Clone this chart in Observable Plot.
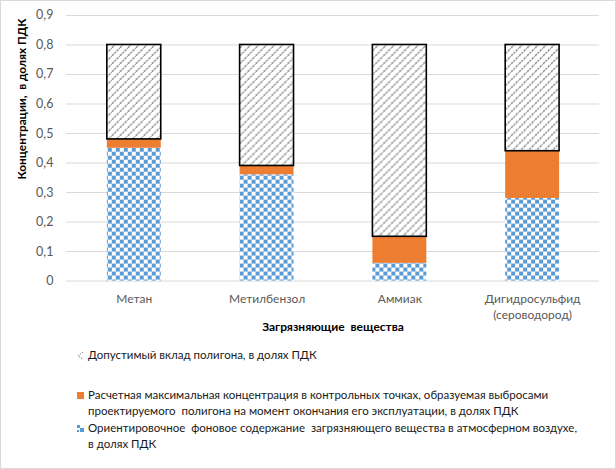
<!DOCTYPE html>
<html>
<head>
<meta charset="utf-8">
<script src="https://cdn.jsdelivr.net/npm/d3@7"></script>
<script src="https://cdn.jsdelivr.net/npm/@observablehq/plot@0.6"></script>
<style>
  html, body { margin: 0; padding: 0; background: #fff; }
  #chart { position: relative; width: 614px; height: 467px; border: 1px solid #d9d9d9; overflow: hidden; font-family: Lato, "Open Sans", sans-serif; }
  #plot { position: absolute; left: -1px; top: -1px; }
  #ylabel { position: absolute; left: 20px; top: 98px; transform: translate(-50%, -50%) rotate(-90deg); white-space: pre; font-weight: bold; font-size: 11.8px; color: #000; }
  #legend { position: absolute; left: 76px; top: 0; font-size: 11.5px; color: #1a1a1a; }
  .item { position: absolute; left: 0; white-space: pre; line-height: 16px; }
  .item svg { position: absolute; left: 0; top: 5px; }
  .item span { display: block; margin-left: 11px; }
</style>
</head>
<body>
<div id="chart">
  <div id="plot"></div>
  <div id="ylabel"></div>
  <div id="legend"></div>
</div>
<script>
const categories = ["Метан", "Метилбензол", "Аммиак", "Дигидросульфид\n(сероводород)"];
const background = [0.45, 0.36, 0.06, 0.28];
const calculated = [0.03, 0.03, 0.09, 0.16];
const allowed = [0.32, 0.41, 0.65, 0.36];
const yTicks = [0, 0.1, 0.2, 0.3, 0.4, 0.5, 0.6, 0.7, 0.8, 0.9];
const seriesNames = ["background", "calculated", "allowed"];
const seriesValues = [background, calculated, allowed];
const legendLabels = [
  "Допустимый вклад полигона, в долях ПДК",
  "Расчетная максимальная концентрация в контрольных точках, образуемая выбросами\nпроектируемого  полигона на момент окончания его эксплуатации, в долях ПДК",
  "Ориентировочное  фоновое содержание  загрязняющего вещества в атмосферном воздухе,\nв долях ПДК"
];
const xTitle = "Загрязняющие  вещества";
const yTitle = "Концентрации,  в долях ПДК";

const fills = { background: "url(#checker)", calculated: "#ED7D31", allowed: "url(#hatch)" };

const rows = [];
categories.forEach((c, i) => {
  seriesNames.forEach((s, j) => rows.push({ cat: c, series: s, value: seriesValues[j][i] }));
});

const plot = Plot.plot({
  width: 616,
  height: 345,
  marginLeft: 66,
  marginRight: 16,
  marginTop: 15,
  marginBottom: 64,
  style: { fontFamily: "Lato, 'Open Sans', sans-serif", fontSize: "12px", background: "transparent" },
  x: { domain: categories, paddingInner: 0.595, paddingOuter: 0.2975 },
  y: { domain: [0, 0.9] },
  color: { type: "identity" },
  marks: [
    Plot.gridY(yTicks, { stroke: "#d9d9d9", strokeOpacity: 1 }),
    Plot.barY(rows, Plot.stackY({
      x: "cat", y: "value",
      fill: d => fills[d.series],
      stroke: d => d.series === "allowed" ? "#000" : "none",
      strokeWidth: 1.6
    })),
    Plot.axisY(yTicks, {
      tickSize: 0, tickPadding: 13, label: null, fill: "#595959", fontSize: 12.5,
      tickFormat: d => d === 0 ? "0" : d.toFixed(1).replace(".", ",")
    }),
    Plot.axisX({
      tickSize: 0, tickPadding: 11, fill: "#595959", fontSize: 12, lineHeight: 1.33,
      label: xTitle, labelAnchor: "center", labelArrow: "none", labelOffset: 50
    })
  ]
});

// pattern definitions
const svg = d3.select(plot);
const defs = svg.insert("defs", ":first-child");
const chk = defs.append("pattern").attr("id", "checker").attr("patternUnits", "userSpaceOnUse")
  .attr("width", 8).attr("height", 8);
chk.append("rect").attr("width", 8).attr("height", 8).attr("fill", "#fff");
chk.append("rect").attr("width", 4).attr("height", 4).attr("fill", "#5B9BD5");
chk.append("rect").attr("x", 4).attr("y", 4).attr("width", 4).attr("height", 4).attr("fill", "#5B9BD5");
const hat = defs.append("pattern").attr("id", "hatch").attr("patternUnits", "userSpaceOnUse")
  .attr("width", 8).attr("height", 8);
hat.append("rect").attr("width", 8).attr("height", 8).attr("fill", "#fff");
hat.append("path").attr("d", "M0,8 L8,0").attr("stroke", "#7a7a7a").attr("stroke-width", 1.3).attr("stroke-dasharray", "2.4,1");

// style x title
svg.selectAll("g[aria-label='x-axis label'] text")
  .attr("font-weight", "bold").attr("fill", "#000").style("white-space", "pre");

document.getElementById("plot").appendChild(plot);
document.getElementById("ylabel").textContent = yTitle;

// legend
const legendTops = [346, 386, 419];
const legendKeys = ["allowed", "calculated", "background"];
const leg = d3.select("#legend");
legendKeys.forEach((k, i) => {
  const item = leg.append("div").attr("class", "item").style("top", legendTops[i] + "px");
  const s = item.append("svg").attr("width", 7).attr("height", 7);
  if (k === "allowed") {
    s.append("path").attr("d", "M6,0 L1,4 L6,7").attr("fill", "none").attr("stroke", "#888").attr("stroke-width", 1).attr("stroke-dasharray", "1.5,1");
  } else if (k === "calculated") {
    s.append("rect").attr("width", 7).attr("height", 7).attr("fill", "#ED7D31");
  } else {
    s.append("rect").attr("width", 7).attr("height", 7).attr("fill", "#fff");
    s.append("rect").attr("x", 0).attr("y", 0).attr("width", 3).attr("height", 3).attr("fill", "#5B9BD5");
    s.append("rect").attr("x", 3).attr("y", 3).attr("width", 4).attr("height", 4).attr("fill", "#5B9BD5");
    s.append("rect").attr("x", 0).attr("y", 5).attr("width", 2).attr("height", 2).attr("fill", "#5B9BD5");
  }
  item.append("span").text(legendLabels[i]);
});
</script>
</body>
</html>
